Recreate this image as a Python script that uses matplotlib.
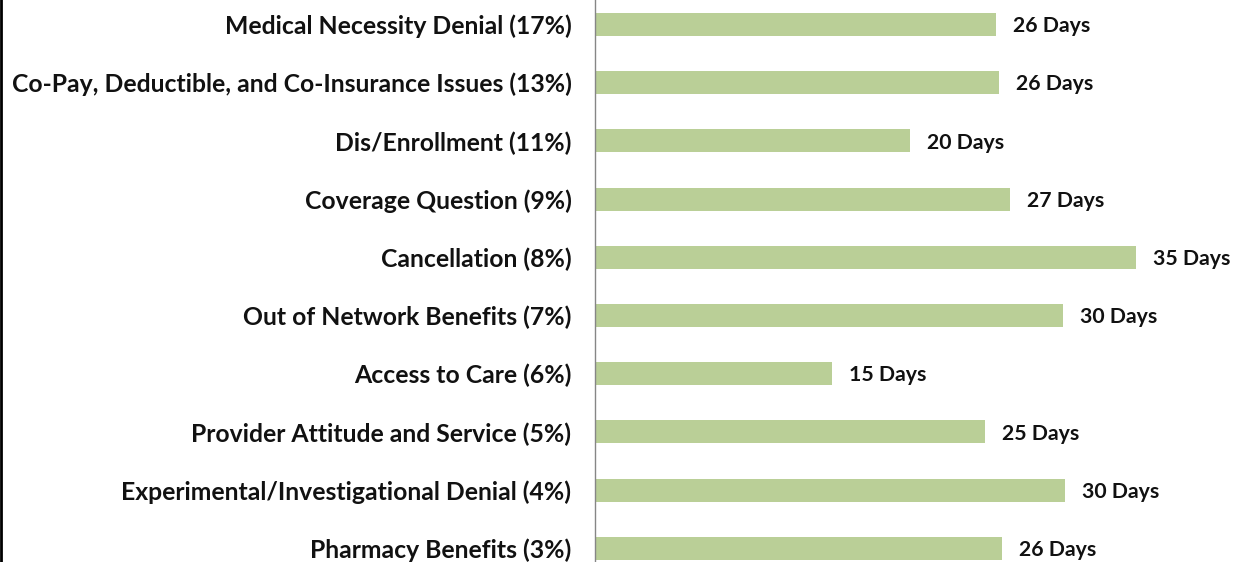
import matplotlib
matplotlib.use("Agg")
import matplotlib.pyplot as plt
from matplotlib.lines import Line2D

# categories, top to bottom
categories = [
    "Medical Necessity Denial (17%)",
    "Co-Pay, Deductible, and Co-Insurance Issues (13%)",
    "Dis/Enrollment (11%)",
    "Coverage Question (9%)",
    "Cancellation (8%)",
    "Out of Network Benefits (7%)",
    "Access to Care (6%)",
    "Provider Attitude and Service (5%)",
    "Experimental/Investigational Denial (4%)",
    "Pharmacy Benefits (3%)",
]
# average days to resolve
days = [25.7, 25.9, 20.2, 26.6, 34.7, 30.0, 15.2, 25.0, 30.1, 26.1]
day_labels = ["26 Days", "26 Days", "20 Days", "27 Days", "35 Days",
              "30 Days", "15 Days", "25 Days", "30 Days", "26 Days"]

plt.rcParams['font.family'] = ['Lato', 'DejaVu Sans']

fig = plt.figure(figsize=(12.38, 5.62), dpi=100)
ax = fig.add_axes([595/1238, 0, 1 - 595/1238, 1])

pos = list(range(len(categories)))
ax.barh(pos, days, height=0.395, color='#BACF97', edgecolor='none')

ax.set_xlim(0, 643/15.6)
ax.set_ylim(9.235, -0.421)

for i in pos:
    ax.text(days[i] + 1.1, i + 0.03, day_labels[i], va='center', ha='left',
            fontsize=15.3, fontweight='bold', color='#111111')

ax.set_yticks(pos)
ax.set_yticklabels(categories, fontsize=17.8, fontweight='bold', color='#111111')
ax.tick_params(axis='y', length=0, pad=17)
ax.set_xticks([])

for s in ['top', 'right', 'bottom']:
    ax.spines[s].set_visible(False)
ax.spines['left'].set_color('#868686')
ax.spines['left'].set_linewidth(1.0)

# black frame edge on the far left
fig.add_artist(Line2D([0.0012, 0.0012], [0, 1], color='black', linewidth=2,
                      transform=fig.transFigure))

fig.savefig("out.png", dpi=100)
